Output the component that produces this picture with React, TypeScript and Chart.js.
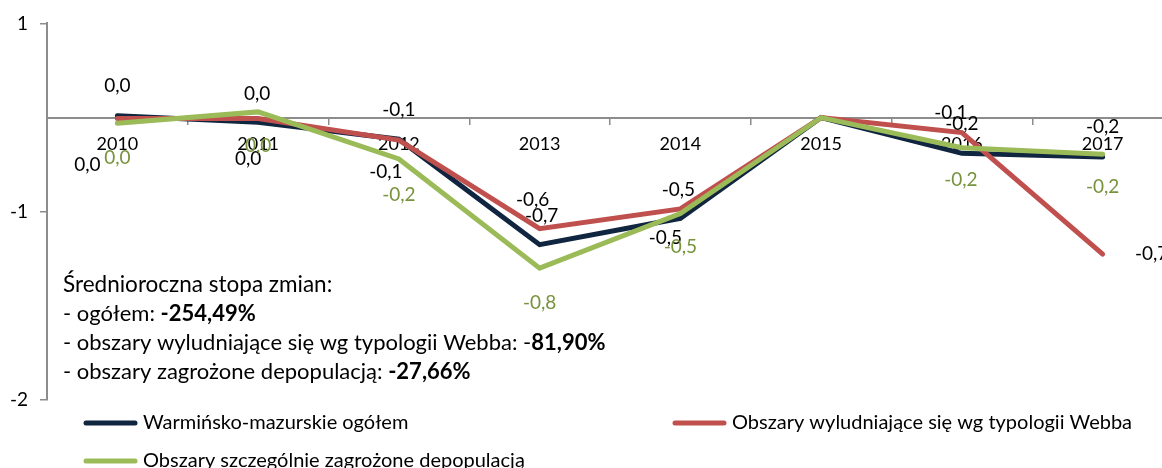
import React, { useEffect, useRef } from "react";
import { Chart, registerables } from "chart.js";
Chart.register(...registerables);

const categories = ["2010", "2011", "2012", "2013", "2014", "2015", "2016", "2017"];
const seriesNames = [
  "Warmińsko-mazurskie ogółem",
  "Obszary wyludniające się wg typologii Webba",
  "Obszary szczególnie zagrożone depopulacją",
];
const totalValues = [0.02, -0.05, -0.23, -1.35, -1.07, 0, -0.38, -0.42];
const webbValues = [-0.01, -0.01, -0.24, -1.18, -0.97, 0, -0.16, -1.45];
const depopValues = [-0.06, 0.06, -0.44, -1.6, -1.02, 0, -0.32, -0.39];
const totalLabels = ["0,0", "0,0", "-0,1", "-0,7", "-0,5", null, "-0,2", "-0,2"];
const webbLabels = ["0,0", "0,0", "-0,1", "-0,6", "-0,5", null, "-0,1", "-0,7"];
const depopLabels = ["0,0", "0,0", "-0,2", "-0,8", "-0,5", null, "-0,2", "-0,2"];
const yTickValues = [1, -1, -3];
const yTickLabels = ["1", "-1", "-2"];
const noteTitle = "Średnioroczna stopa zmian:";
const noteLines = [
  ["- ogółem: ", "-254,49%"],
  ["- obszary wyludniające się wg typologii Webba: -", "81,90%"],
  ["- obszary zagrożone depopulacją: ", "-27,66%"],
];

// styling / layout
const FONT = "Lato";
const colors = ["#10253F", "#C0504D", "#9BBB59"];
const labelColors = ["#000000", "#000000", "#77933C"];
const labelOffsets = [
  [[-30, 49], [-10, 37], [-13, 33], [2, -29], [-15, 20], null, [0, -29], [0, -30]],
  [[0, -33], [-1, -25], [0, -30], [-7, -29], [-2, -19], null, [-11, -20], [49, 0]],
  [[0, 35], [0, 34], [0, 36], [0, 35], [0, 33], null, [-1, 32], [0, 33]],
];
const legendPos = [[83, 423], [672, 423], [83, 461]];

const overlayPlugin = {
  id: "overlay",
  afterDraw(chart: any) {
    const ctx = chart.ctx;
    ctx.save();
    // data labels
    const labelSets = [totalLabels, webbLabels, depopLabels];
    ctx.font = `19px ${FONT}`;
    ctx.textAlign = "center";
    ctx.textBaseline = "middle";
    labelSets.forEach((labels, di) => {
      const meta = chart.getDatasetMeta(di);
      labels.forEach((t, i) => {
        const off = labelOffsets[di][i];
        if (t == null || !off) return;
        const pt = meta.data[i];
        ctx.fillStyle = labelColors[di];
        ctx.fillText(t, pt.x + off[0], pt.y + off[1]);
      });
    });
    // note
    ctx.textAlign = "left";
    ctx.fillStyle = "#000";
    const nx = 63;
    ctx.font = `22.5px ${FONT}`;
    ctx.fillText(noteTitle, nx, 285);
    noteLines.forEach((parts, i) => {
      const y = 314 + i * 29;
      ctx.font = `22px ${FONT}`;
      ctx.fillText(parts[0], nx, y);
      const w = ctx.measureText(parts[0]).width;
      ctx.font = `bold 22px ${FONT}`;
      ctx.fillText(parts[1], nx + w, y);
    });
    // legend
    ctx.font = `20px ${FONT}`;
    chart.data.datasets.forEach((ds: any, i: number) => {
      const [lx, ly] = legendPos[i];
      ctx.strokeStyle = ds.borderColor;
      ctx.lineWidth = 5;
      ctx.lineCap = "round";
      ctx.beginPath();
      ctx.moveTo(lx + 3, ly);
      ctx.lineTo(lx + 52, ly);
      ctx.stroke();
      ctx.fillStyle = "#000";
      ctx.fillText(ds.label, lx + 60, ly);
    });
    ctx.restore();
  },
};

export default function App() {
  const ref = useRef<HTMLCanvasElement>(null);
  useEffect(() => {
    const mk = (label: string, data: number[], i: number) => ({
      label,
      data,
      borderColor: colors[i],
      backgroundColor: colors[i],
      borderWidth: 5,
      pointRadius: 0,
      tension: 0,
      borderCapStyle: "round",
      order: 3 - i,
    });
    const chart = new Chart(ref.current!, {
      type: "line",
      data: {
        labels: categories,
        datasets: [
          mk(seriesNames[0], totalValues, 0),
          mk(seriesNames[1], webbValues, 1),
          mk(seriesNames[2], depopValues, 2),
        ],
      },
      options: {
        responsive: false,
        animation: false,
        layout: { padding: { top: 20, bottom: 68, right: 7, left: 0 } },
        plugins: { legend: { display: false }, tooltip: { enabled: false } },
        scales: {
          x: {
            type: "category",
            position: { y: 0 },
            offset: true,
            grid: {
              offset: true,
              drawOnChartArea: false,
              drawTicks: true,
              tickLength: 6,
              color: "#8C8C8C",
              lineWidth: 1.5,
            },
            border: { display: true, color: "#8C8C8C", width: 2 },
            ticks: { color: "#000", font: { family: FONT, size: 18 }, padding: 10, maxRotation: 0, autoSkip: false },
          },
          y: {
            min: -3,
            max: 1,
            afterBuildTicks: (scale: any) => {
              scale.ticks = yTickValues.map((v) => ({ value: v }));
            },
            afterFit: (scale: any) => {
              scale.width = 47;
            },
            grid: { drawOnChartArea: false, tickLength: 7, color: "#8C8C8C", lineWidth: 1.5 },
            border: { display: true, color: "#8C8C8C", width: 2 },
            ticks: {
              color: "#000",
              font: { family: FONT, size: 19 },
              padding: 12,
              callback: (v: any) => {
                const i = yTickValues.indexOf(Number(v));
                return i >= 0 ? yTickLabels[i] : "";
              },
            },
          },
        },
      },
      plugins: [overlayPlugin],
    } as any);
    return () => chart.destroy();
  }, []);
  return (
    <div style={{ position: "fixed", left: 0, top: 0, width: 1162, height: 468, overflow: "hidden", background: "#fff" }}>
      <canvas ref={ref} width={1180} height={468} style={{ width: 1180, height: 468, display: "block" }} />
    </div>
  );
}
